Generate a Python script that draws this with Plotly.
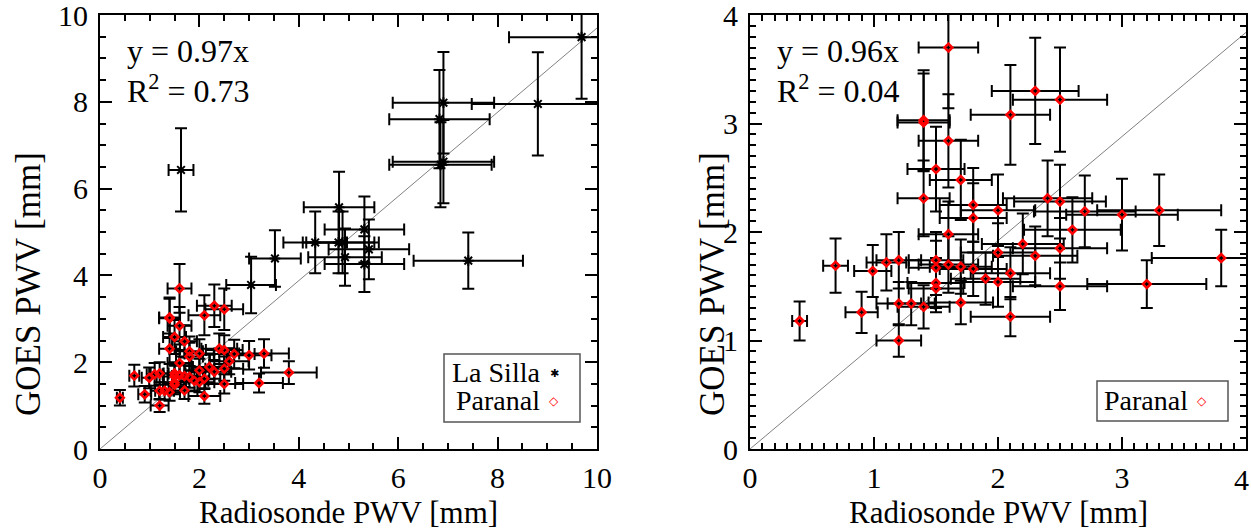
import plotly.graph_objects as go

# ---------------- data ----------------
# Paranal: radiosonde PWV vs GOES PWV [mm] with 1-sigma uncertainties
paranal_x = [0.40, 0.69, 0.90, 0.99, 1.10, 1.20, 1.20, 1.20, 1.30, 1.40,
             1.40, 1.40, 1.40, 1.50, 1.50, 1.50, 1.50, 1.50, 1.60, 1.60,
             1.60, 1.60, 1.70, 1.70, 1.70, 1.80, 1.80, 1.80, 1.90, 2.00,
             2.00, 2.00, 2.10, 2.10, 2.10, 2.20, 2.30, 2.30, 2.40, 2.50,
             2.50, 2.50, 2.50, 2.60, 2.70, 3.00, 3.20, 3.30, 3.80]
paranal_y = [1.18, 1.69, 1.26, 1.64, 1.72, 1.74, 1.00, 1.34, 1.34, 1.31,
             3.03, 3.01, 2.31, 2.58, 1.74, 1.67, 1.53, 1.48, 3.70, 2.84,
             1.98, 1.70, 2.48, 1.68, 1.35, 2.25, 2.13, 1.66, 1.57, 2.20,
             1.81, 1.54, 3.08, 1.62, 1.22, 1.89, 3.30, 1.78, 2.31, 3.22,
             2.28, 1.85, 1.50, 2.02, 2.19, 2.16, 1.52, 2.20, 1.76]
paranal_xerr = [0.06, 0.10, 0.13, 0.15, 0.16, 0.18, 0.18, 0.18, 0.19, 0.21,
                0.21, 0.21, 0.21, 0.23, 0.22, 0.22, 0.23, 0.22, 0.24, 0.24,
                0.24, 0.24, 0.25, 0.25, 0.26, 0.27, 0.27, 0.27, 0.28, 0.30,
                0.30, 0.30, 0.32, 0.32, 0.32, 0.33, 0.35, 0.34, 0.36, 0.38,
                0.37, 0.38, 0.38, 0.39, 0.41, 0.45, 0.48, 0.50, 0.56]
paranal_yerr = [0.18, 0.25, 0.19, 0.24, 0.26, 0.26, 0.15, 0.20, 0.20, 0.20,
                0.46, 0.45, 0.35, 0.39, 0.26, 0.25, 0.23, 0.22, 0.56, 0.43,
                0.30, 0.26, 0.37, 0.25, 0.20, 0.34, 0.32, 0.25, 0.24, 0.33,
                0.27, 0.23, 0.46, 0.24, 0.18, 0.28, 0.49, 0.27, 0.35, 0.48,
                0.34, 0.28, 0.22, 0.30, 0.33, 0.33, 0.22, 0.33, 0.26]

# La Silla
lasilla_x = [9.69, 6.91, 6.83, 8.81, 6.91, 6.85, 1.63, 4.81, 5.32, 4.33,
             4.80, 4.88, 5.41, 4.93, 5.32, 7.41, 3.52, 3.04]
lasilla_y = [9.49, 7.98, 7.60, 7.95, 6.62, 6.55, 6.43, 5.57, 5.06, 4.76,
             4.76, 4.76, 4.60, 4.42, 4.26, 4.34, 4.39, 3.78]
lasilla_xerr = [1.46, 1.02, 1.01, 1.33, 1.02, 1.03, 0.25, 0.71, 0.80, 0.64,
                0.72, 0.73, 0.81, 0.74, 0.80, 1.10, 0.52, 0.50]
lasilla_yerr = [1.42, 1.17, 1.13, 1.19, 0.96, 0.98, 0.96, 0.82, 0.76, 0.71,
                0.71, 0.71, 0.69, 0.66, 0.64, 0.65, 0.65, 0.65]

# fit results shown on each panel
fit_slope = [0.97, 0.96]
fit_r2 = [0.73, 0.04]
panel_max = [10, 4]
panel_major = [2, 1]
panel_minor = [0.5, 0.1]

x_title = "Radiosonde PWV [mm]"
y_title = "GOES PWV [mm]"

# ---------------- layout helpers ----------------
W, H = 1251, 529
FONT = "Liberation Serif, Times New Roman, serif"


def fx(p):
    return p / W


def fy(p):
    return 1 - p / H


panel_px = [(100, 597), (750, 1246)]
ytitle_offset = [72, 38]
top_px, bot_px = 15, 449

fig = go.Figure()

# fitted relation y = slope * x on each panel
for i, (xa, ya) in enumerate([("x", "y"), ("x2", "y2")]):
    xs = [0, panel_max[i]]
    fig.add_trace(go.Scatter(
        x=xs, y=[fit_slope[i] * v for v in xs], mode="lines",
        line=dict(color="#808080", width=1), xaxis=xa, yaxis=ya,
        showlegend=False, hoverinfo="skip"))

err_style = dict(type="data", color="black", thickness=2, width=6)

# La Silla (left panel)
fig.add_trace(go.Scatter(
    x=lasilla_x, y=lasilla_y, mode="markers", xaxis="x", yaxis="y",
    error_x=dict(array=lasilla_xerr, **err_style),
    error_y=dict(array=lasilla_yerr, **err_style),
    marker=dict(symbol="asterisk-open", size=9, color="black",
                line=dict(color="black", width=2)),
    showlegend=False))

# Paranal (both panels)
for xa, ya in [("x", "y"), ("x2", "y2")]:
    fig.add_trace(go.Scatter(
        x=paranal_x, y=paranal_y, mode="markers", xaxis=xa, yaxis=ya,
        error_x=dict(array=paranal_xerr, **err_style),
        error_y=dict(array=paranal_yerr, **err_style),
        marker=dict(symbol="diamond-open", size=6, color="red",
                    line=dict(color="red", width=2.5)),
        showlegend=False))


def axis(i, dom, anchor):
    return dict(
        domain=dom, range=[0, panel_max[i]], anchor=anchor, automargin=False,
        dtick=panel_major[i], tick0=0,
        ticks="inside", ticklen=12, tickwidth=1.5, tickcolor="black",
        minor=dict(dtick=panel_minor[i], tick0=0, ticks="inside",
                   ticklen=6, tickwidth=1.5, tickcolor="black"),
        showline=True, linecolor="black", linewidth=2, mirror="allticks",
        showgrid=False, zeroline=False, ticklabeloverflow="allow",
        tickfont=dict(family=FONT, size=30, color="black"),
    )


ydom = [fy(bot_px), fy(top_px)]
xa1 = axis(0, [fx(panel_px[0][0]), fx(panel_px[0][1])], "y")
xa2 = axis(1, [fx(panel_px[1][0]), fx(panel_px[1][1])], "y2")
ya1 = axis(0, ydom, "x")
ya2 = axis(1, ydom, "x2")
for a in (xa1, xa2):
    a["ticklabelstandoff"] = 1
for a in (ya1, ya2):
    a["ticklabelstandoff"] = 4

# the right panel's last x label sits flush against the page edge,
# so it is placed right-aligned on its tick instead of centred
last_tick = panel_max[1]
xa2["tickvals"] = list(range(0, last_tick + 1))
xa2["ticktext"] = [str(v) for v in range(0, last_tick)] + [""]

annotations = [dict(
    text=str(last_tick), xref="x2", yref="paper", x=last_tick, y=fy(479),
    xanchor="right", yanchor="middle", showarrow=False, xshift=5,
    font=dict(family=FONT, size=30, color="black"))]
shapes = []
for i, (l, r) in enumerate(panel_px):
    cx = (l + r) / 2
    annotations.append(dict(
        text=x_title, xref="paper", yref="paper", x=fx(cx), y=fy(512),
        xanchor="center", yanchor="middle", showarrow=False,
        font=dict(family=FONT, size=31, color="black")))
    annotations.append(dict(
        text=y_title, xref="paper", yref="paper", x=fx(l - ytitle_offset[i]),
        y=fy(284), xanchor="center", yanchor="middle", textangle=-90,
        showarrow=False, font=dict(family=FONT, size=35, color="black")))
    annotations.append(dict(
        text=f"y = {fit_slope[i]:.2f}x", xref="paper", yref="paper",
        x=fx(l + 25), y=fy(51), xanchor="left", yanchor="middle",
        showarrow=False, font=dict(family=FONT, size=32, color="black")))
    annotations.append(dict(
        text=f"R<sup>2</sup> = {fit_r2[i]:.2f}", xref="paper", yref="paper",
        x=fx(l + 25), y=fy(89), xanchor="left", yanchor="middle",
        showarrow=False, font=dict(family=FONT, size=32, color="black")))

# legend boxes drawn by hand (label first, symbol after)
legend_boxes = [((444, 354, 580, 422), [("La Silla", 372, "asterisk-open", "black"),
                                        ("Paranal", 400, "diamond-open", "red")]),
                ((1097, 381, 1228, 421), [("Paranal", 400, "diamond-open", "red")])]
for (x0, y0, x1, y1), items in legend_boxes:
    shapes.append(dict(type="rect", xref="paper", yref="paper",
                       x0=fx(x0), x1=fx(x1), y0=fy(y1), y1=fy(y0),
                       line=dict(color="#555555", width=1.5),
                       fillcolor="white", layer="above"))
    for label, ypx, sym, col in items:
        annotations.append(dict(
            text=label, xref="paper", yref="paper", x=fx(x1 - 38), y=fy(ypx),
            xanchor="right", yanchor="middle", showarrow=False,
            font=dict(family=FONT, size=28, color="black")))
        annotations.append(dict(
            text="◇" if sym == "diamond-open" else "✱",
            xref="paper", yref="paper", x=fx(x1 - 26), y=fy(ypx + 1),
            xanchor="center", yanchor="middle", showarrow=False,
            font=dict(family="DejaVu Sans", size=12 if sym == "diamond-open" else 11,
                      color=col)))

fig.update_layout(
    width=W, height=H, margin=dict(l=0, r=0, t=0, b=0),
    paper_bgcolor="white", plot_bgcolor="white",
    xaxis=xa1, yaxis=ya1, xaxis2=xa2, yaxis2=ya2,
    annotations=annotations, shapes=shapes, showlegend=False,
)

fig.write_html("out.html")
